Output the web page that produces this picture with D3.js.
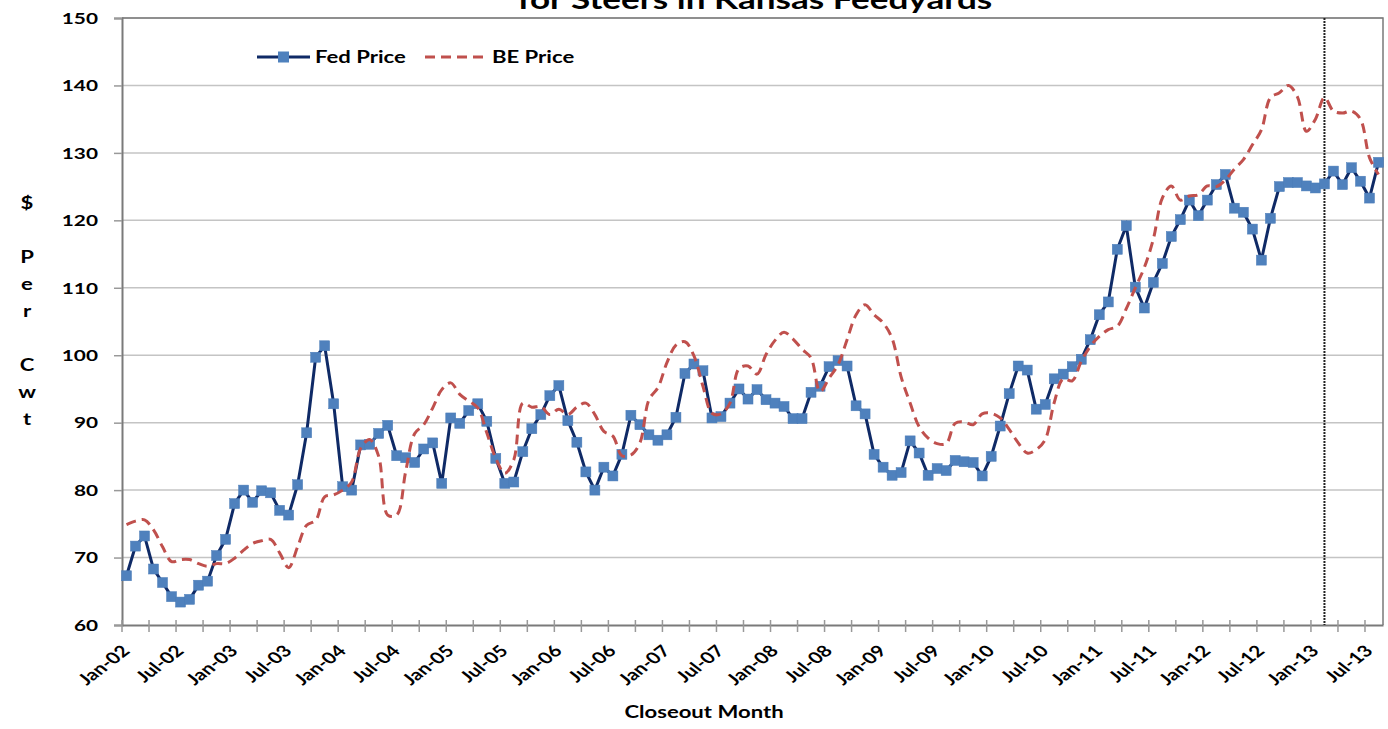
<!DOCTYPE html>
<html lang="en">
<head>
    <meta charset="UTF-8">
    <title>Fed Price vs BE Price for Steers in Kansas Feedyards</title>
    <style>
        body { margin: 0; background: #fff; }
        text { font-family: Lato, "Open Sans", sans-serif; font-weight: bold; fill: #000; }
    </style>
</head>
<body>
    <div id="chart"></div>
    <script src="https://d3js.org/d3.v7.min.js"></script>
    <script>
        // Monthly closeouts, Jan-02 .. Aug-13 ($ per cwt)
        var fedPrice = [
            67.3, 71.7, 73.2, 68.3, 66.3, 64.2, 63.4, 63.8, 65.9, 66.5, 70.3, 72.7,
            78.0, 80.0, 78.2, 79.9, 79.6, 77.0, 76.3, 80.8, 88.5, 99.7, 101.4, 92.8,
            80.5, 80.0, 86.7, 86.8, 88.4, 89.6, 85.1, 84.8, 84.1, 86.1, 87.0, 81.0,
            90.7, 89.9, 91.8, 92.8, 90.2, 84.7, 81.0, 81.2, 85.7, 89.1, 91.2, 94.0,
            95.5, 90.3, 87.1, 82.7, 80.0, 83.4, 82.1, 85.3, 91.1, 89.7, 88.2, 87.4,
            88.2, 90.8, 97.3, 98.7, 97.7, 90.7, 90.9, 92.9, 95.0, 93.5, 94.9, 93.4,
            92.9, 92.4, 90.6, 90.6, 94.5, 95.4, 98.3, 99.2, 98.4, 92.5, 91.3, 85.3,
            83.4, 82.2, 82.6, 87.3, 85.5, 82.2, 83.2, 82.9, 84.4, 84.2, 84.1, 82.1,
            85.0, 89.5, 94.3, 98.4, 97.8, 92.0, 92.7, 96.5, 97.2, 98.3, 99.4, 102.3,
            106.0, 107.9, 115.7, 119.2, 110.1, 107.0, 110.8, 113.6, 117.6, 120.1, 123.0, 120.7,
            123.0, 125.3, 126.8, 121.8, 121.2, 118.7, 114.1, 120.3, 125.0, 125.6, 125.6, 125.1,
            124.8, 125.4, 127.3, 125.3, 127.8, 125.8, 123.3, 128.6
        ];

        var bePrice = [
            74.9, 75.4, 75.6, 74.1, 71.6, 69.4, 69.7, 69.7, 69.1, 68.7, 69.1, 69.1,
            69.9, 71.1, 72.1, 72.5, 72.7, 70.7, 68.5, 71.6, 74.8, 75.5, 79.0, 79.3,
            80.0, 81.2, 86.2, 87.5, 85.0, 76.3, 76.3, 82.8, 88.4, 89.7, 92.2, 94.9,
            95.9, 94.2, 93.2, 92.2, 88.5, 84.7, 82.5, 84.5, 92.9, 92.3, 92.4, 91.2,
            92.0, 91.2, 92.3, 92.9, 91.2, 88.7, 88.0, 85.1, 85.2, 87.0, 93.4, 95.2,
            98.9, 101.5, 102.0, 99.9, 95.4, 91.4, 91.3, 92.9, 98.0, 98.4, 97.2, 100.1,
            102.2, 103.4, 102.4, 100.9, 99.6, 94.6, 96.6, 98.6, 102.3, 106.0, 107.5, 106.0,
            104.8, 102.5, 96.8, 92.9, 89.4, 87.7, 86.9, 86.9, 89.9, 90.1, 89.7, 91.3,
            91.4, 90.7, 89.0, 87.0, 85.5, 86.0, 87.5, 93.0, 96.5, 96.2, 99.1, 101.3,
            102.8, 103.8, 104.3, 106.9, 110.0, 113.0, 117.2, 123.3, 125.1, 123.0, 123.6, 123.8,
            125.1, 125.0, 126.0, 127.6, 129.0, 131.2, 133.4, 138.2, 138.9, 140.0, 138.3, 133.2,
            135.0, 138.2, 136.2, 135.9, 136.2, 135.0, 129.3, 126.8
        ];

        var months = d3.timeMonth.range(new Date(2002, 0, 1), new Date(2013, 8, 1));
        var yTicks = [60, 70, 80, 90, 100, 110, 120, 130, 140, 150];
        var forecastMonth = 133; // Feb-13 marker line
        var yTitle = ['$', '', 'P', 'e', 'r', '', 'C', 'w', 't'];

        // the original picture is stretched sideways, so are its letters
        var stretch = 'scale(1.3,1)';

        var margin = {top: 18, right: 5, bottom: 104, left: 122},
            width = 1388 - margin.left - margin.right,
            height = 729 - margin.top - margin.bottom;

        var root = d3.select('#chart')
            .append('svg')
                .attr('width', 1388)
                .attr('height', 729);

        var svg = root.append('g')
            .attr('transform', 'translate(' + margin.left + ',' + margin.top + ')');

        var x = d3.scaleLinear()
            .domain([0, months.length])
            .range([0, width]);

        var y = d3.scaleLinear()
            .domain([60, 150])
            .range([height, 0]);

        // gridlines
        svg.append('g')
            .selectAll('line')
            .data(yTicks.slice(1))
            .enter().append('line')
                .attr('x1', 0)
                .attr('x2', width)
                .attr('y1', d => y(d))
                .attr('y2', d => y(d))
                .style('stroke', '#c4c4c4')
                .style('stroke-width', 1.5);

        // plot border (top/right)
        svg.append('path')
            .attr('d', 'M0,0H' + width + 'V' + height)
            .style('fill', 'none')
            .style('stroke', '#7a7a7a')
            .style('stroke-width', 1.5);

        // y axis
        var yAxis = svg.append('g')
            .call(d3.axisLeft(y).tickValues(yTicks).tickSize(8).tickFormat(''));

        svg.append('g')
            .selectAll('text')
            .data(yTicks)
            .enter().append('text')
                .attr('transform', d => 'translate(-24,' + y(d) + ') ' + stretch)
                .attr('dy', '.36em')
                .style('text-anchor', 'end')
                .style('font-size', '16px')
                .text(d => d);

        // x axis, tick marks cross the line
        var xAxis = svg.append('g')
            .attr('transform', 'translate(0,' + height + ')')
            .call(d3.axisBottom(x).tickValues([]).tickSizeOuter(0));

        xAxis.selectAll('.minor')
            .data(d3.range(0, months.length + 1, 3))
            .enter().append('line')
                .attr('class', 'minor')
                .attr('x1', d => x(d))
                .attr('x2', d => x(d))
                .attr('y1', -5)
                .attr('y2', 7)
                .style('stroke', '#999')
                .style('stroke-width', 1.5);

        [yAxis, xAxis].forEach(function(a) {
            a.select('.domain').style('stroke', '#7a7a7a').style('stroke-width', 2);
            a.selectAll('.tick line').style('stroke', '#999').style('stroke-width', 1.5);
        });

        var fmt = d3.timeFormat('%b-%y');
        svg.append('g')
            .selectAll('text')
            .data(d3.range(0, months.length, 6))
            .enter().append('text')
                .attr('transform', d => 'translate(' + (x(d) + 9) + ',' + (height + 27) + ') ' + stretch + ' rotate(-45)')
                .style('text-anchor', 'end')
                .style('font-size', '16px')
                .text(d => fmt(months[d]));

        // vertical marker
        svg.append('line')
            .attr('x1', x(forecastMonth + 0.5))
            .attr('x2', x(forecastMonth + 0.5))
            .attr('y1', 0)
            .attr('y2', height)
            .style('stroke', '#222')
            .style('stroke-width', 2)
            .style('stroke-dasharray', '2,1');

        // Fed price series
        var fedLine = d3.line()
            .x((d, i) => x(i + 0.5))
            .y(d => y(d));

        svg.append('path')
            .datum(fedPrice)
            .attr('d', fedLine)
            .style('fill', 'none')
            .style('stroke', '#0f2a66')
            .style('stroke-width', 3);

        svg.append('g')
            .selectAll('rect')
            .data(fedPrice)
            .enter().append('rect')
                .attr('x', (d, i) => x(i + 0.5) - 5)
                .attr('y', d => y(d) - 5)
                .attr('width', 10)
                .attr('height', 10)
                .style('fill', '#4f81bd')
                .style('stroke', '#4a7cb8')
                .style('stroke-width', 0.5);

        // BE price series (smoothed, dashed)
        var beLine = d3.line()
            .x((d, i) => x(i + 0.5))
            .y(d => y(d))
            .curve(d3.curveCatmullRom.alpha(0.5));

        svg.append('path')
            .datum(bePrice)
            .attr('d', beLine)
            .style('fill', 'none')
            .style('stroke', '#c0504d')
            .style('stroke-width', 3)
            .style('stroke-dasharray', '10,6');

        // legend
        var legend = root.append('g')
            .attr('transform', 'translate(257,57)');
        legend.append('line')
            .attr('x1', 0).attr('x2', 53)
            .style('stroke', '#0f2a66').style('stroke-width', 3);
        legend.append('rect')
            .attr('x', 21).attr('y', -5.5).attr('width', 11).attr('height', 11)
            .style('fill', '#4f81bd');
        legend.append('text')
            .attr('transform', 'translate(58,0) ' + stretch)
            .attr('dy', '.35em')
            .style('font-size', '17px')
            .text('Fed Price');
        legend.append('line')
            .attr('x1', 168).attr('x2', 231)
            .style('stroke', '#c0504d').style('stroke-width', 3)
            .style('stroke-dasharray', '10,6');
        legend.append('text')
            .attr('transform', 'translate(235,0) ' + stretch)
            .attr('dy', '.35em')
            .style('font-size', '17px')
            .text('BE Price');

        // titles (first title line sits above the visible frame, as in the source)
        root.append('text')
            .attr('transform', 'translate(755,9) ' + stretch)
            .style('text-anchor', 'middle')
            .style('font-size', '27px')
            .text('for Steers in Kansas Feedyards');

        root.append('text')
            .attr('transform', 'translate(704,718) ' + stretch)
            .style('text-anchor', 'middle')
            .style('font-size', '17px')
            .text('Closeout Month');

        root.append('g')
            .selectAll('text')
            .data(yTitle)
            .enter().append('text')
                .attr('transform', (d, i) => 'translate(27,' + (209 + i * 27) + ') ' + stretch)
                .style('text-anchor', 'middle')
                .style('font-size', '17px')
                .text(d => d);
    </script>
</body>
</html>
